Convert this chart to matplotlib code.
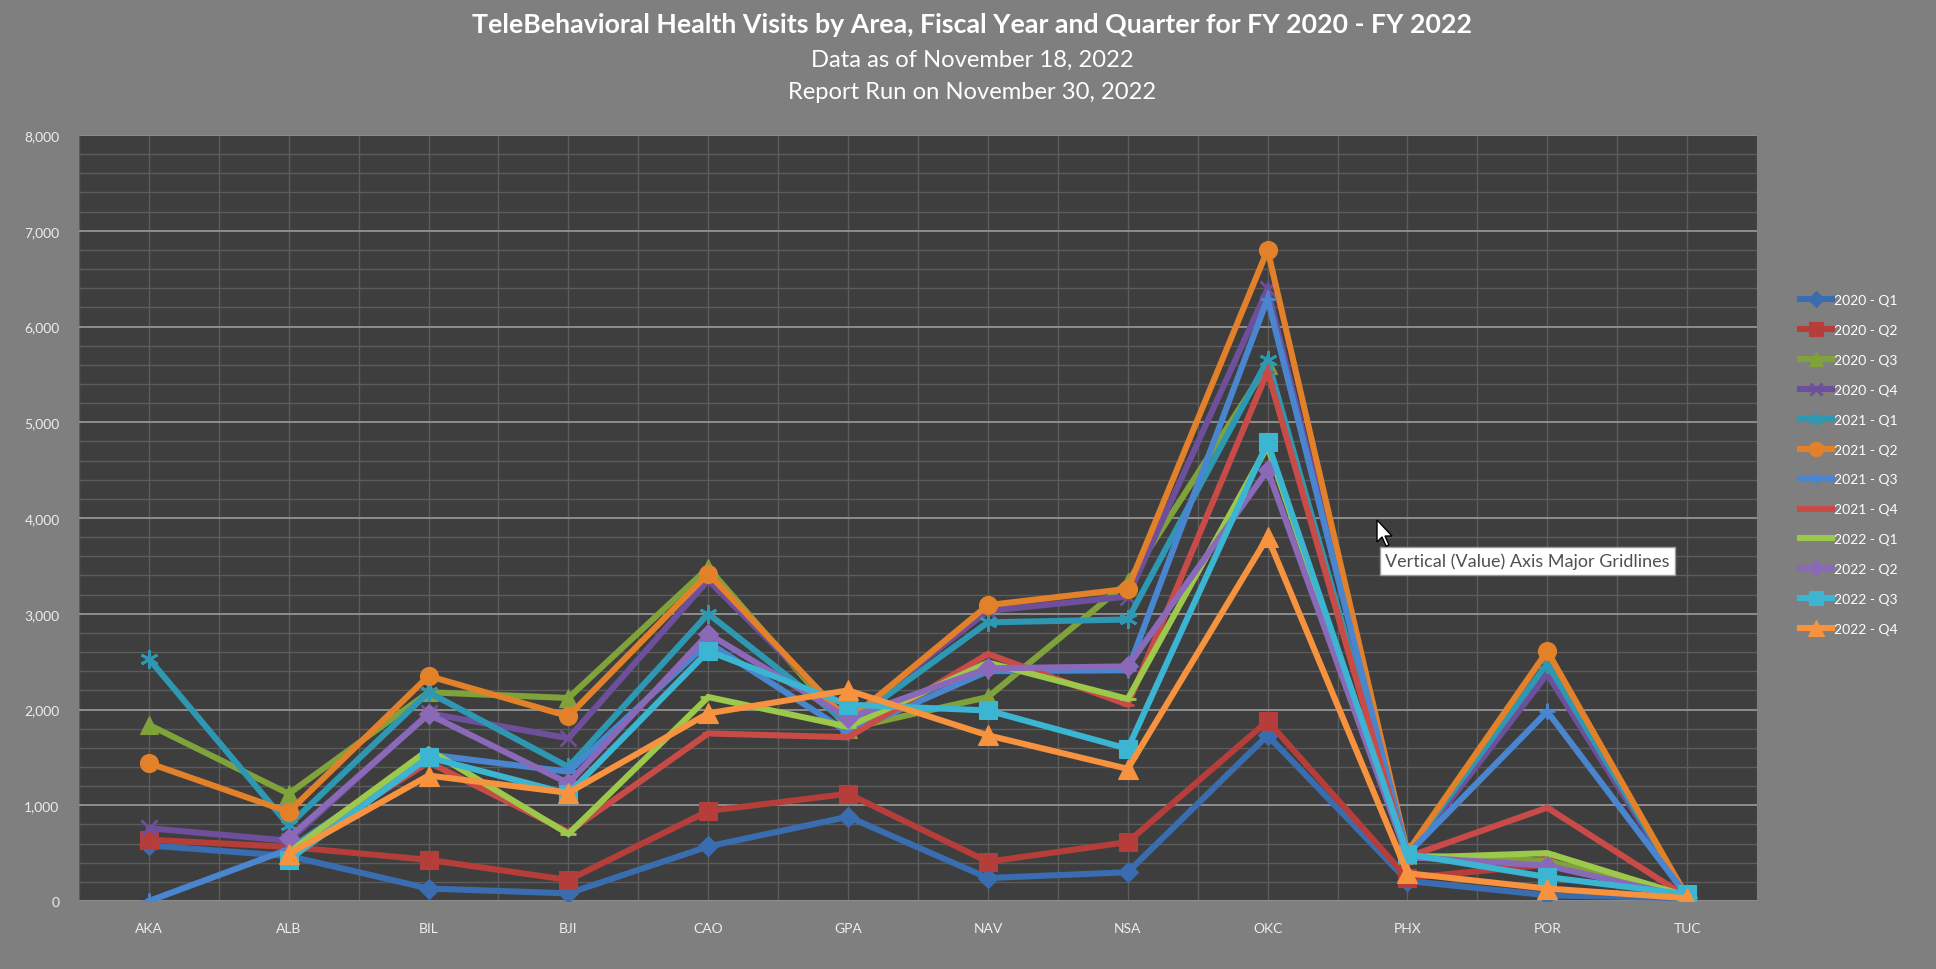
import numpy as np
import matplotlib
matplotlib.use("Agg")
import matplotlib.pyplot as plt
from matplotlib.ticker import MultipleLocator, FixedLocator, FuncFormatter
from matplotlib.patches import Polygon

plt.rcParams['font.family'] = ['Lato', 'DejaVu Sans']

nan = np.nan
areas = ['AKA', 'ALB', 'BIL', 'BJI', 'CAO', 'GPA', 'NAV', 'NSA', 'OKC', 'PHX', 'POR', 'TUC']

q2020_1 = [580, 470, 130, 80, 570, 880, 240, 300, 1730, 210, 60, 30]
q2020_2 = [640, 565, 430, 220, 940, 1120, 410, 615, 1880, 240, 380, 40]
q2020_3 = [1840, 1120, 2180, 2120, 3480, 1800, 2130, 3330, 5600, 480, 420, 50]
q2020_4 = [760, 630, 1960, 1700, 3350, 1900, 3030, 3180, 6390, 470, 2370, 50]
q2021_1 = [2530, 790, 2180, 1400, 3000, 1850, 2910, 2940, 5650, 500, 2480, 50]
q2021_2 = [1440, 930, 2350, 1930, 3420, 1880, 3090, 3260, 6800, 510, 2610, 40]
q2021_3 = [0, 540, 1530, 1350, 2700, 1760, 2400, 2410, 6290, 490, 1980, 50]
q2021_4 = [nan, 520, 1450, 720, 1750, 1710, 2580, 2050, 5530, 460, 975, 40]
q2022_1 = [nan, 510, 1580, 700, 2130, 1820, 2490, 2110, 4750, 450, 500, 50]
q2022_2 = [nan, 660, 1950, 1230, 2790, 1910, 2430, 2450, 4500, 460, 370, 40]
q2022_3 = [nan, 430, 1500, 1120, 2610, 2050, 1990, 1590, 4790, 490, 250, 70]
q2022_4 = [nan, 490, 1310, 1130, 1960, 2200, 1730, 1380, 3800, 290, 130, 30]

series_labels = ['2020 - Q1', '2020 - Q2', '2020 - Q3', '2020 - Q4',
                 '2021 - Q1', '2021 - Q2', '2021 - Q3', '2021 - Q4',
                 '2022 - Q1', '2022 - Q2', '2022 - Q3', '2022 - Q4']
series_values = [q2020_1, q2020_2, q2020_3, q2020_4, q2021_1, q2021_2,
                 q2021_3, q2021_4, q2022_1, q2022_2, q2022_3, q2022_4]

colors = ['#3A6DB0', '#B53D3A', '#7FA23A', '#6E4F9C', '#2E97B2', '#E2812A',
          '#4A86CF', '#C94B48', '#9CC84C', '#8A69B8', '#3BB5D2', '#F7923F']
markers = ['D', 's', '^', 'x', (6, 2, 0), 'o', '+', '_', '_', 'D', 's', '^']
msizes = [10, 13, 13, 11, 13, 13, 12, 8, 12, 10, 13, 14]

fig = plt.figure(figsize=(19.36, 9.70), dpi=100, facecolor='#7F7F7F')
ax = fig.add_axes([79/1936, 1 - 902/970, (1757-79)/1936, (902-136)/970])
ax.set_facecolor('#3E3E3E')

x = np.arange(len(areas))
for vals, lab, c, m, ms in zip(series_values, series_labels, colors, markers, msizes):
    ax.plot(x, vals, color=c, lw=4.4, marker=m, markersize=ms,
            markerfacecolor=c, markeredgecolor=c,
            markeredgewidth=2.0 if m in ('x', '+', '_', (6, 2, 0)) else 0.8,
            label=lab, solid_joinstyle='miter', zorder=3)

ax.set_xlim(-0.5, len(areas) - 0.5)
ax.set_ylim(0, 8000)
ax.yaxis.set_major_locator(MultipleLocator(1000))
ax.yaxis.set_minor_locator(MultipleLocator(200))
ax.yaxis.set_major_formatter(FuncFormatter(lambda v, p: f'{int(v):,}'))
ax.set_xticks(x)
ax.set_xticklabels(areas)
ax.xaxis.set_minor_locator(FixedLocator(np.arange(-0.5, len(areas), 1.0)))

ax.grid(which='major', axis='y', color='#8E8E8E', lw=1.4, zorder=0)
ax.grid(which='minor', axis='y', color='#5C5C5C', lw=1.0, zorder=0)
ax.grid(which='major', axis='x', color='#5C5C5C', lw=1.0, zorder=0)
ax.grid(which='minor', axis='x', color='#5C5C5C', lw=1.0, zorder=0)
ax.set_axisbelow(True)

ax.tick_params(axis='both', which='both', length=0)
ax.tick_params(axis='y', labelsize=10, labelcolor='#EDEDED', pad=14)
ax.tick_params(axis='x', labelsize=10, labelcolor='#EDEDED', pad=15)
for s in ax.spines.values():
    s.set_visible(False)

fig.text(0.502, 1 - 24.7/970, 'TeleBehavioral Health Visits by Area, Fiscal Year and Quarter for FY 2020 - FY 2022',
         ha='center', va='center', color='white', fontsize=19.3, fontweight='bold')
fig.text(0.502, 1 - 60.5/970, 'Data as of November 18, 2022', ha='center', va='center',
         color='white', fontsize=17.1)
fig.text(0.502, 1 - 92.6/970, 'Report Run on November 30, 2022', ha='center', va='center',
         color='white', fontsize=17.1)

leg = fig.legend(loc='upper left', bbox_to_anchor=(1800/1936, 1 - 295/970), frameon=False,
                 fontsize=10, labelcolor='white', handlelength=2.3, handletextpad=0.15,
                 labelspacing=1.29, borderpad=0, borderaxespad=0)
for h in leg.legend_handles:
    h.set_markersize(h.get_markersize() * 0.8)

# tooltip from the screenshot
fig.text(1385/1936, 1 - 562/970, 'Vertical (Value) Axis Major Gridlines', ha='left', va='center',
         color='#505050', fontsize=13,
         bbox=dict(boxstyle='square,pad=0.3', facecolor='white', edgecolor='#9A9A9A', lw=1))
# mouse cursor
cx, cy = 1377, 521
pts = [(0, 0), (0, 22), (5, 17), (9, 26), (12, 25), (8, 16), (15, 16)]
cur = Polygon([((cx + px)/1936, 1 - (cy + py)/970) for px, py in pts], closed=True,
              transform=fig.transFigure, facecolor='white', edgecolor='black', lw=1, zorder=10)
fig.patches.append(cur)

fig.savefig('out.png', dpi=100, facecolor=fig.get_facecolor())
